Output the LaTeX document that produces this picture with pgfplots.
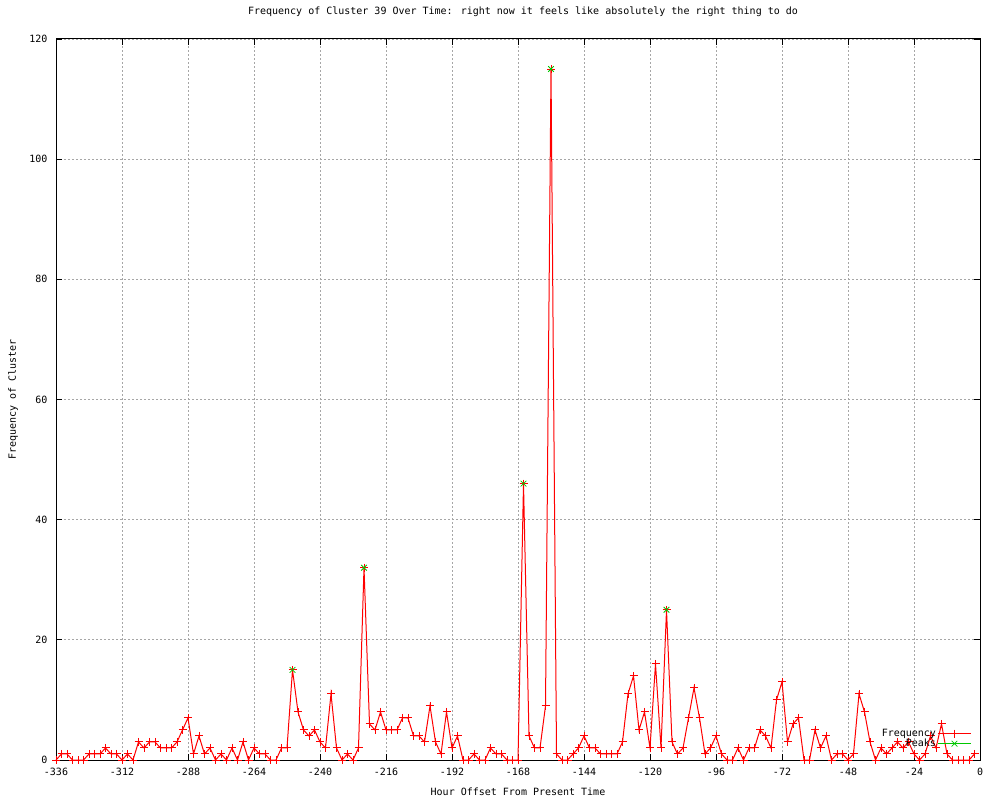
\documentclass[border=0pt]{standalone}
\usepackage{pgfplots}
\pgfplotsset{compat=1.18}
\usepackage{pgfplotstable}
\usepackage{fontspec}
\setmainfont{DejaVu Sans Mono}
\definecolor{gpred}{RGB}{255,0,0}
\definecolor{gpgreen}{RGB}{0,200,0}
\pgfplotsset{
  freqlegend/.style={legend image code/.code={\draw[##1] (0pt,0pt) -- (33pt,0pt); \draw[##1] plot coordinates {(16.5pt,0pt)};}},
  peaklegend/.style={legend image code/.code={\path (0pt,0pt) -- (33pt,0pt); \draw[##1] plot coordinates {(16.5pt,0pt)};}},
}
\pgfplotstableread{
h v
-336 0
-334 1
-332 1
-330 0
-328 0
-326 0
-324 1
-322 1
-320 1
-318 2
-316 1
-314 1
-312 0
-310 1
-308 0
-306 3
-304 2
-302 3
-300 3
-298 2
-296 2
-294 2
-292 3
-290 5
-288 7
-286 1
-284 4
-282 1
-280 2
-278 0
-276 1
-274 0
-272 2
-270 0
-268 3
-266 0
-264 2
-262 1
-260 1
-258 0
-256 0
-254 2
-252 2
-250 15
-248 8
-246 5
-244 4
-242 5
-240 3
-238 2
-236 11
-234 2
-232 0
-230 1
-228 0
-226 2
-224 32
-222 6
-220 5
-218 8
-216 5
-214 5
-212 5
-210 7
-208 7
-206 4
-204 4
-202 3
-200 9
-198 3
-196 1
-194 8
-192 2
-190 4
-188 0
-186 0
-184 1
-182 0
-180 0
-178 2
-176 1
-174 1
-172 0
-170 0
-168 0
-166 46
-164 4
-162 2
-160 2
-158 9
-156 115
-154 1
-152 0
-150 0
-148 1
-146 2
-144 4
-142 2
-140 2
-138 1
-136 1
-134 1
-132 1
-130 3
-128 11
-126 14
-124 5
-122 8
-120 2
-118 16
-116 2
-114 25
-112 3
-110 1
-108 2
-106 7
-104 12
-102 7
-100 1
-98 2
-96 4
-94 1
-92 0
-90 0
-88 2
-86 0
-84 2
-82 2
-80 5
-78 4
-76 2
-74 10
-72 13
-70 3
-68 6
-66 7
-64 0
-62 0
-60 5
-58 2
-56 4
-54 0
-52 1
-50 1
-48 0
-46 1
-44 11
-42 8
-40 3
-38 0
-36 2
-34 1
-32 2
-30 3
-28 2
-26 3
-24 1
-22 0
-20 1
-18 4
-16 2
-14 6
-12 1
-10 0
-8 0
-6 0
-4 0
-2 1
}\freqdata
\pgfplotstableread{
h v
-250 15
-224 32
-166 46
-156 115
-114 25
}\peakdata
\begin{document}
\begin{tikzpicture}
\path[use as bounding box] (0pt,0pt) rectangle (1000pt,800pt);
\begin{axis}[
  at={(56pt,40pt)}, anchor=south west,
  scale only axis, width=924pt, height=721pt,
  xmin=-336, xmax=0, ymin=0, ymax=120,
  xtick={-336,-312,...,0}, ytick={0,20,...,120},
  tick pos=both, tick align=inside, major tick length=6pt,
  tick style={black, line width=0.8pt},
  axis line style={black, line width=1pt},
  grid=major,
  major grid style={gray!70, line width=0.8pt, dash pattern=on 2pt off 2pt},
  /pgf/number format/assume math mode=true,
  /pgf/number format/1000 sep={},
  every tick label/.append style={font=\fontsize{10}{12}\selectfont},
  xticklabel style={yshift=-5pt},
  yticklabel style={xshift=-5pt},
  title={Frequency of Cluster 39 Over Time: right now it feels like absolutely the right thing to do},
  title style={at={(rel axis cs:0.5,1)}, anchor=center, yshift=21pt, xshift=5pt, font=\fontsize{10}{12}\selectfont},
  xlabel={Hour Offset From Present Time},
  xlabel style={at={(rel axis cs:0.5,0)}, anchor=center, yshift=-32pt, font=\fontsize{10}{12}\selectfont},
  ylabel={Frequency of Cluster},
  ylabel style={at={(rel axis cs:0,0.5)}, anchor=center, yshift=43pt, font=\fontsize{10}{12}\selectfont},
  clip=false,
  legend style={at={(rel axis cs:0.991,0.014)}, anchor=south east, draw=none, fill=none,
    inner sep=0pt, row sep=-2pt, font=\fontsize{10}{12}\selectfont,
    nodes={inner sep=1.5pt}},
  legend cell align=right,
  legend plot pos=right,
]
\addplot[gpred, line width=1pt, mark=+, mark size=4pt, freqlegend]
  table[x=h,y=v]{\freqdata};
\addlegendentry{Frequency}
\addplot[gpgreen, only marks, mark=x, mark size=4pt, mark options={line width=0.8pt}, peaklegend]
  table[x=h,y=v]{\peakdata};
\addlegendentry{Peaks}
\end{axis}
\end{tikzpicture}
\end{document}
